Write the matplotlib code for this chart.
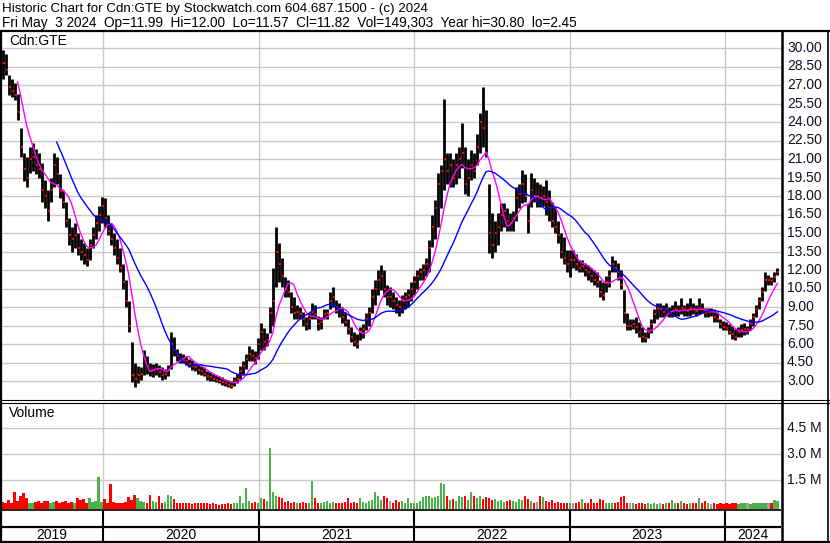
import numpy as np
import pandas as pd
import matplotlib
matplotlib.use("Agg")
import matplotlib.pyplot as plt
import matplotlib.dates as mdates
from matplotlib.lines import Line2D

# ---------------- data (weekly) ----------------
start_date = "2019-05-03"
end_date = "2024-05-03"

low = [28.5, 27.5, 27.8, 26.2, 26.0, 25.8, 24.2, 21.2, 19.2, 18.7,
       19.9, 20.0, 19.8, 19.5, 17.5, 17.0, 16.0, 17.5, 18.7, 19.0,
       17.8, 17.0, 15.5, 14.0, 13.5, 13.8, 13.2, 12.8, 12.5, 12.3,
       12.8, 13.8, 14.5, 15.2, 15.8, 15.5, 14.8, 14.0, 13.2, 12.5,
       11.8, 10.5, 9.0, 7.0, 2.9, 2.5, 2.8, 3.1, 3.5, 3.6,
       3.4, 3.3, 3.5, 3.3, 3.1, 3.2, 3.4, 4.0, 5.0, 4.6,
       4.5, 4.5, 4.3, 4.1, 3.9, 3.8, 3.6, 3.5, 3.4, 3.1,
       3.0, 3.0, 2.9, 2.8, 2.7, 2.6, 2.5, 2.45, 2.6, 2.8,
       3.2, 3.6, 4.0, 4.6, 4.6, 4.4, 4.8, 5.5, 5.5, 5.8,
       6.9, 7.5, 10.6, 11.0, 10.6, 9.8, 9.8, 8.5, 8.0, 8.0,
       8.0, 7.5, 7.1, 7.2, 8.0, 8.0, 7.1, 7.2, 8.0, 8.0,
       8.8, 9.0, 8.5, 8.2, 7.7, 7.5, 6.8, 6.2, 5.8, 5.7,
       6.3, 6.5, 7.1, 7.5, 8.5, 9.2, 10.0, 10.4, 9.8, 9.2,
       9.0, 8.8, 8.5, 8.3, 8.5, 8.8, 9.0, 9.5, 10.0, 10.5,
       11.2, 11.2, 11.5, 11.8, 13.9, 14.5, 15.5, 17.0, 18.5, 19.0,
       18.7, 18.7, 19.0, 19.5, 20.3, 18.2, 18.0, 19.3, 19.5, 20.5,
       21.5, 22.0, 21.2, 13.4, 13.0, 13.5, 14.0, 15.2, 15.5, 15.2,
       15.2, 15.2, 16.0, 17.0, 17.4, 17.5, 15.0, 17.1, 17.5, 17.1,
       17.1, 17.2, 16.5, 16.0, 15.5, 15.0, 14.2, 13.0, 12.5, 11.8,
       11.4, 12.2, 12.0, 11.8, 11.8, 11.5, 11.2, 11.0, 10.8, 10.6,
       9.8, 9.6, 10.2, 10.6, 11.8, 11.8, 11.2, 10.5, 7.7, 7.1,
       7.1, 7.2, 6.9, 6.6, 6.2, 6.2, 6.5, 6.9, 7.7, 8.0,
       8.2, 8.2, 8.3, 8.2, 8.2, 8.3, 8.3, 8.4, 8.3, 8.3,
       8.3, 8.4, 8.3, 8.4, 8.5, 8.2, 8.2, 8.3, 7.8, 7.8,
       7.3, 7.1, 7.1, 6.8, 6.4, 6.3, 6.6, 6.6, 6.7, 6.8,
       7.1, 7.5, 8.2, 8.8, 9.5, 10.3, 10.8, 10.8, 11.0, 11.57]

high = [30.8, 29.8, 29.5, 27.8, 27.5, 27.2, 26.3, 23.5, 21.5, 21.2,
        22.0, 22.3, 21.8, 21.5, 20.7, 19.3, 18.5, 19.5, 21.5, 21.2,
        19.8, 18.5, 17.5, 16.2, 15.5, 15.8, 15.0, 14.5, 14.2, 13.8,
        14.5, 15.5, 16.5, 17.2, 17.9, 17.8, 16.5, 15.8, 15.0, 14.5,
        13.8, 12.5, 11.2, 9.5, 6.2, 4.5, 4.2, 4.1, 5.5, 5.0,
        4.5, 4.4, 4.5, 4.3, 4.1, 4.0, 4.3, 7.0, 6.6, 5.6,
        5.3, 5.2, 5.0, 4.8, 4.7, 4.5, 4.4, 4.2, 4.1, 3.8,
        3.7, 3.6, 3.5, 3.4, 3.3, 3.2, 3.1, 3.0, 3.3, 3.6,
        4.2, 4.6, 5.2, 5.8, 5.6, 5.4, 6.5, 7.7, 7.3, 6.9,
        9.0, 12.2, 15.5, 14.2, 13.0, 11.4, 11.2, 10.2, 9.8, 9.2,
        9.0, 8.6, 8.2, 8.5, 9.3, 9.2, 8.3, 8.2, 8.8, 8.8,
        10.2, 10.6, 9.6, 9.3, 9.0, 8.6, 8.0, 7.4, 7.0, 6.8,
        7.4, 7.6, 8.5, 9.0, 10.5, 11.2, 12.0, 12.4, 12.0, 10.8,
        10.6, 10.2, 9.8, 9.6, 10.0, 10.2, 10.5, 11.0, 11.5, 12.0,
        12.2, 12.5, 13.0, 14.4, 16.5, 17.7, 19.9, 20.5, 25.9, 21.5,
        21.5, 21.0, 21.5, 22.0, 23.9, 22.0, 21.0, 21.7, 21.5, 23.0,
        24.7, 26.8, 25.0, 19.0, 16.6, 16.0, 16.6, 17.4, 17.4, 17.0,
        16.6, 16.8, 18.7, 19.0, 20.1, 19.8, 17.4, 19.9, 19.5, 19.1,
        19.0, 18.8, 19.3, 18.5, 17.5, 17.1, 16.0, 15.0, 14.7, 13.6,
        13.6, 13.6, 13.3, 12.8, 12.8, 12.6, 12.4, 12.2, 12.0, 11.8,
        11.2, 11.0, 11.5, 12.0, 13.1, 12.8, 12.6, 12.0, 10.4, 8.5,
        8.0, 8.0, 8.2, 7.8, 7.4, 7.0, 7.4, 8.0, 8.8, 9.3,
        9.3, 9.2, 9.3, 9.0, 9.2, 9.5, 9.2, 9.7, 9.2, 9.3,
        9.7, 9.3, 9.2, 9.7, 9.3, 8.9, 8.9, 8.9, 8.8, 8.6,
        8.0, 7.9, 7.8, 7.6, 7.5, 7.2, 7.4, 7.6, 7.7, 7.5,
        8.0, 8.5, 9.2, 9.8, 10.6, 11.8, 11.6, 11.4, 11.8, 12.2]

close = [29.5, 28.8, 28.2, 26.8, 26.5, 26.2, 24.8, 22.0, 20.2, 19.5,
         21.0, 21.2, 20.5, 20.2, 18.5, 18.0, 16.8, 18.5, 20.5, 19.8,
         18.4, 17.5, 16.0, 14.8, 14.5, 14.8, 13.8, 13.5, 13.2, 12.8,
         14.0, 14.8, 15.8, 16.5, 17.2, 16.2, 15.2, 14.5, 13.8, 13.0,
         12.2, 11.0, 9.5, 7.5, 3.5, 3.2, 3.5, 3.6, 4.8, 4.2,
         3.8, 3.9, 4.0, 3.7, 3.5, 3.6, 3.9, 6.0, 5.5, 5.0,
         4.8, 4.7, 4.6, 4.4, 4.2, 4.1, 3.9, 3.8, 3.6, 3.4,
         3.3, 3.2, 3.1, 3.0, 2.9, 2.8, 2.7, 2.6, 3.0, 3.2,
         3.8, 4.2, 4.8, 5.2, 5.0, 4.9, 6.0, 7.0, 6.2, 6.3,
         8.5, 9.5, 13.5, 12.5, 11.5, 10.5, 10.2, 9.0, 8.5, 8.6,
         8.4, 8.0, 7.6, 8.0, 8.6, 8.4, 7.6, 7.8, 8.4, 8.5,
         9.5, 9.8, 9.0, 8.8, 8.2, 7.8, 7.2, 6.6, 6.2, 6.0,
         7.0, 7.2, 8.0, 8.5, 9.8, 10.5, 11.2, 11.5, 10.5, 9.8,
         9.8, 9.5, 9.2, 9.0, 9.5, 9.8, 10.0, 10.5, 11.0, 11.5,
         11.8, 12.0, 12.5, 13.8, 15.5, 17.0, 19.0, 20.0, 21.0, 20.0,
         20.5, 19.5, 20.5, 21.0, 21.5, 19.0, 19.5, 20.5, 20.0, 22.0,
         24.0, 23.5, 21.5, 15.0, 14.0, 15.0, 15.5, 16.5, 16.8, 16.0,
         15.8, 16.2, 17.8, 18.2, 19.0, 18.0, 16.0, 18.5, 18.0, 18.0,
         17.8, 18.0, 17.5, 17.0, 16.0, 15.5, 14.8, 13.5, 13.0, 12.5,
         12.8, 12.8, 12.5, 12.2, 12.3, 12.0, 11.8, 11.5, 11.2, 11.0,
         10.2, 10.0, 11.0, 11.5, 12.5, 12.2, 11.8, 10.8, 8.5, 7.5,
         7.5, 7.6, 7.4, 7.0, 6.6, 6.5, 7.0, 7.6, 8.4, 8.8,
         8.8, 8.6, 8.8, 8.5, 8.7, 8.8, 8.7, 8.9, 8.8, 8.7,
         8.9, 8.8, 8.7, 8.9, 8.8, 8.5, 8.6, 8.6, 8.2, 8.0,
         7.6, 7.4, 7.3, 7.0, 6.8, 6.6, 7.0, 7.1, 7.2, 7.2,
         7.6, 8.2, 8.8, 9.5, 10.2, 11.2, 11.2, 11.1, 11.4, 11.82]

volume_m = [0.69, 0.25, 0.15, 0.35, 0.2, 0.8, 0.3, 0.58, 0.75, 0.45,
            0.2, 0.15, 0.25, 0.3, 0.2, 0.3, 0.3, 0.15, 0.25, 0.3,
            0.2, 0.25, 0.3, 0.2, 0.25, 0.2, 0.45, 0.35, 0.4, 0.2,
            0.45, 0.25, 0.3, 1.67, 0.25, 0.4, 0.2, 1.27, 0.25, 0.15,
            0.2, 0.15, 0.25, 0.5, 0.35, 0.62, 0.45, 0.3, 0.25, 0.2,
            0.63, 0.3, 0.25, 0.55, 0.2, 0.25, 0.63, 0.6, 0.4, 0.2,
            0.2, 0.15, 0.2, 0.15, 0.12, 0.2, 0.15, 0.18, 0.15, 0.2,
            0.12, 0.15, 0.1, 0.08, 0.12, 0.1, 0.15, 0.12, 0.2, 0.15,
            0.55, 0.2, 1.04, 0.3, 0.2, 0.25, 0.2, 0.45, 0.4, 0.3,
            3.35, 0.8, 0.55, 0.5, 0.45, 0.25, 0.3, 0.2, 0.25, 0.2,
            0.2, 0.25, 0.15, 0.2, 1.44, 0.45, 0.2, 0.15, 0.25, 0.3,
            0.2, 0.25, 0.2, 0.15, 0.2, 0.25, 0.45, 0.2, 0.25, 0.2,
            0.45, 0.25, 0.2, 0.3, 0.35, 0.8, 0.6, 0.35, 0.55, 0.45,
            0.3, 0.2, 0.35, 0.25, 0.3, 0.2, 0.45, 0.2, 0.15, 0.2,
            0.3, 0.5, 0.6, 0.55, 0.45, 0.5, 0.55, 1.33, 1.28, 0.55,
            0.35, 0.4, 0.3, 0.6, 0.5, 0.55, 0.35, 0.8, 0.6, 0.45,
            0.55, 0.4, 0.5, 0.45, 0.35, 0.4, 0.3, 0.35, 0.25, 0.3,
            0.35, 0.3, 0.25, 0.4, 0.35, 0.55, 0.4, 0.3, 0.2, 0.25,
            0.55, 0.5, 0.3, 0.25, 0.35, 0.2, 0.25, 0.2, 0.15, 0.2,
            0.15, 0.2, 0.15, 0.25, 0.4, 0.2, 0.15, 0.4, 0.2, 0.15,
            0.4, 0.35, 0.2, 0.15, 0.2, 0.15, 0.25, 0.5, 0.55, 0.2,
            0.15, 0.15, 0.12, 0.15, 0.2, 0.12, 0.15, 0.1, 0.15, 0.12,
            0.15, 0.12, 0.15, 0.2, 0.35, 0.15, 0.2, 0.3, 0.15, 0.12,
            0.15, 0.2, 0.15, 0.45, 0.2, 0.3, 0.15, 0.12, 0.15, 0.12,
            0.15, 0.12, 0.15, 0.12, 0.18, 0.15, 0.12, 0.15, 0.2, 0.15,
            0.12, 0.2, 0.15, 0.18, 0.15, 0.2, 0.15, 0.2, 0.35, 0.3]

price_ticks = [3.0, 4.5, 6.0, 7.5, 9.0, 10.5, 12.0, 13.5, 15.0, 16.5, 18.0,
               19.5, 21.0, 22.5, 24.0, 25.5, 27.0, 28.5, 30.0]
volume_ticks_m = [1.5, 3.0, 4.5]
years = ["2019", "2020", "2021", "2022", "2023", "2024"]

title_line1 = "Historic Chart for Cdn:GTE by Stockwatch.com 604.687.1500 - (c) 2024"
title_line2 = ("Fri May  3 2024  Op=11.99  Hi=12.00  Lo=11.57  Cl=11.82  "
               "Vol=149,303  Year hi=30.80  lo=2.45")
symbol = "Cdn:GTE"

# ---------------- layout helpers ----------------
W, H = 830, 543
fig = plt.figure(figsize=(W / 100, H / 100), dpi=100)
fig.patch.set_facecolor("white")
FONT = "Liberation Sans"
GRID = "#c8c8c8"
FS = 10.0


def rect(x0, y0, x1, y1):
    return [x0 / W, 1 - y1 / H, (x1 - x0) / W, (y1 - y0) / H]


def fline(xs, ys, lw=1.0, color="black"):
    fig.add_artist(Line2D([v / W for v in xs], [1 - v / H for v in ys],
                          transform=fig.transFigure, color=color, lw=lw,
                          solid_capstyle="butt"))


dates = pd.date_range(start_date, end_date, periods=len(close))
xd = mdates.date2num(dates)
year_starts = [mdates.date2num(pd.Timestamp(f"{y}-01-01")) for y in years[1:]]

# pixel mapping of the time axis: 2020-01-01 -> px 103, 2024-01-01 -> px 725
t20, t24 = year_starts[0], year_starts[-1]
ppd = (725 - 103) / (t24 - t20)
X0, X1 = 1, 781
xlim = (t20 + (X0 - 103) / ppd, t20 + (X1 - 103) / ppd)
day = 1 / ppd  # data units per pixel

# ---------------- price panel ----------------
ax = fig.add_axes(rect(X0, 32, X1, 399))
ppu = (381 - 48) / 27.0
ax.set_ylim(3 - (399 - 381) / ppu, 3 + (381 - 32) / ppu)
ax.set_xlim(*xlim)
for t in price_ticks:
    ax.axhline(t, color=GRID, lw=1.0, zorder=0)
for t in year_starts:
    ax.axvline(t, color=GRID, lw=1.0, zorder=0)

cs = pd.Series(close)
ma_fast = cs.rolling(7).mean()
ma_slow = cs.rolling(20).mean()

ax.vlines(xd, low, high, color="black", lw=2.0, zorder=3)
ax.plot(xd + 1.0 * day, close, "s", ms=1.5, mew=0, color="#ff0000", zorder=3.5)
ax.plot(xd, ma_fast, color="#ff00ff", lw=1.0, zorder=4)
ax.plot(xd, ma_slow, color="#0000ff", lw=1.0, zorder=4)

ax.set_xticks([])
ax.set_yticks([])
for s in ax.spines.values():
    s.set_visible(False)
ax.text(8 / (X1 - X0), 1 - (41 - 32) / (399 - 32), symbol, transform=ax.transAxes,
        fontsize=FS, family=FONT, va="center", ha="left")
for t in price_ticks:
    ax.text(1 + 6 / (X1 - X0), t, f"{t:.2f}",
            transform=ax.get_yaxis_transform(), fontsize=FS, family=FONT,
            va="center", ha="left", color="#101028", clip_on=False)

# ---------------- volume panel ----------------
axv = fig.add_axes(rect(X0, 403, X1, 509))
vpm = 26 / 1.5
vbottom = -(509 - 506) / vpm
axv.set_ylim(vbottom, (506 - 403) / vpm)
axv.set_xlim(*xlim)
for t in volume_ticks_m:
    axv.axhline(t, color=GRID, lw=1.0, zorder=0)
for t in year_starts:
    axv.axvline(t, color=GRID, lw=1.0, zorder=0)

prev = np.r_[close[0], close[:-1]]
vcolors = ["#4cb04c" if c > p else ("#ff0000" if c < p else "#a0a0a0")
           for c, p in zip(close, prev)]
axv.bar(xd, np.array(volume_m) - vbottom, bottom=vbottom, width=2.4 * day,
        color=vcolors, align="center", zorder=2, linewidth=0)
axv.set_xticks([])
axv.set_yticks([])
for s in axv.spines.values():
    s.set_visible(False)
axv.text(8 / (X1 - X0), 1 - (413 - 403) / (509 - 403), "Volume", transform=axv.transAxes,
         fontsize=FS, family=FONT, va="center", ha="left")
for t in volume_ticks_m:
    axv.text(1 + 6 / (X1 - X0), t, f"{t:.1f} M",
             transform=axv.get_yaxis_transform(), fontsize=FS, family=FONT,
             va="center", ha="left", color="#101028", clip_on=False)

# ---------------- date strip ----------------
axd = fig.add_axes(rect(X0, 510, X1, 542))
axd.set_xlim(*xlim)
axd.set_ylim(0, 1)
axd.axis("off")
for t in year_starts:
    axd.axvline(t, color="black", lw=1.5)
bounds = [xlim[0]] + year_starts + [xlim[1]]
for i, y in enumerate(years):
    axd.text((bounds[i] + bounds[i + 1]) / 2, (542 - 535) / 32, y,
             fontsize=FS, family=FONT, ha="center", va="center")

# ---------------- header + frame ----------------
fig.text(2 / W, 1 - 9 / H, title_line1, fontsize=9.6, family=FONT, va="center", ha="left")
fig.text(2 / W, 1 - 23 / H, title_line2, fontsize=9.8, family=FONT, va="center", ha="left")

fline([0, W], [30.5, 30.5], lw=1.6)
fline([0, W], [399.5, 399.5], lw=0.8)
fline([0, W], [402.5, 402.5], lw=0.8)
fline([0, 781], [510, 510], lw=1.2)
fline([0, 781], [526.5, 526.5], lw=1.6)
fline([0, W], [541.5, 541.5], lw=1.6)
fline([1, 1], [30, 542], lw=1.6)
fline([781.5, 781.5], [30, 542], lw=1.8)
fline([827.5, 827.5], [30, 542], lw=1.2)

fig.savefig("out.png", dpi=100, facecolor="white")
